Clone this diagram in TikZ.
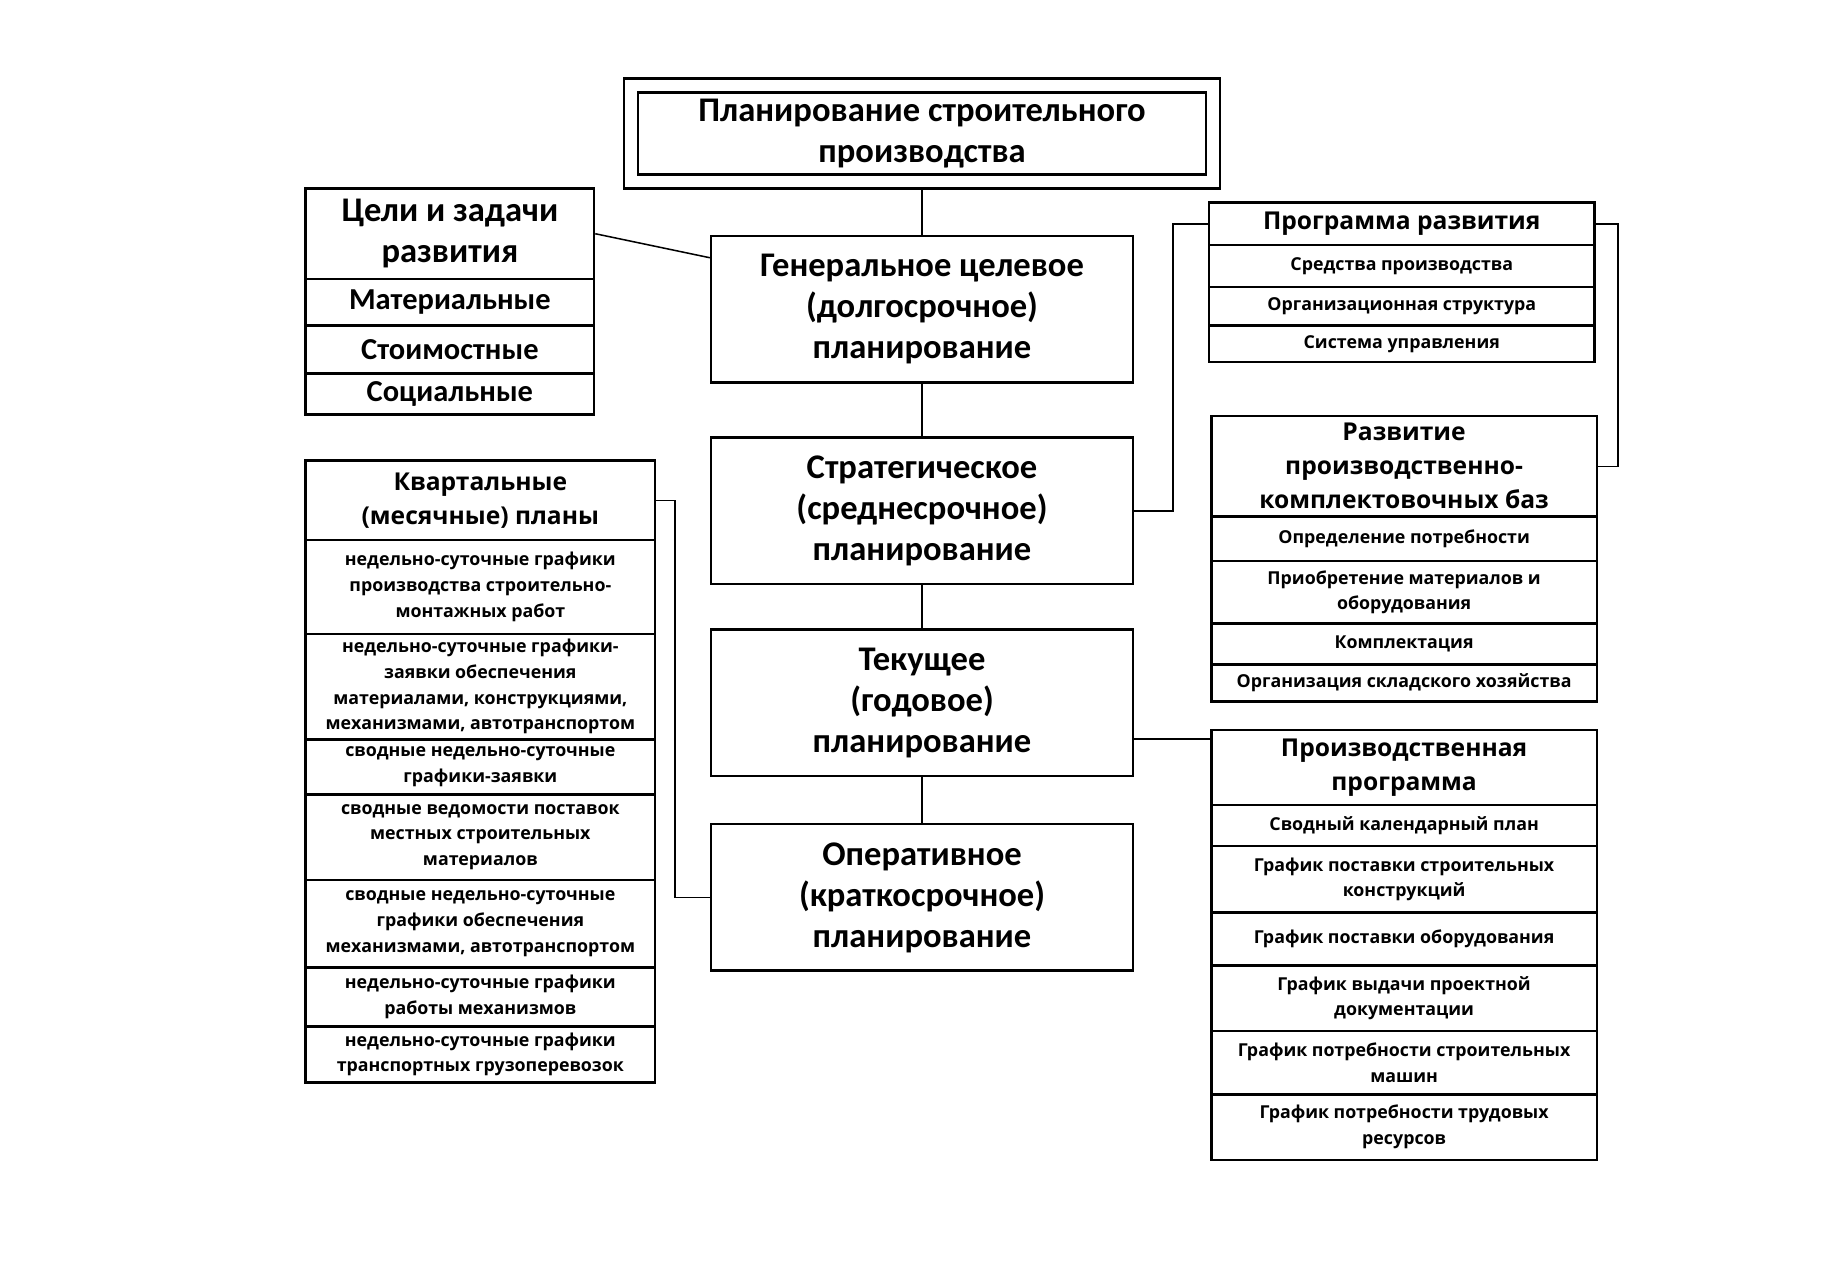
\documentclass[tikz,border=0pt]{standalone}
\usepackage{fontspec}
\setmainfont{Carlito}
\newfontfamily\opensans{Open Sans}

\begin{document}
\begin{tikzpicture}[x=1pt,y=-1pt,
 box/.style={draw,line width=2.2pt,align=center,inner sep=1pt,font=\bfseries\fontsize{29.5}{35}\selectfont},
 sub/.style={draw,line width=2.2pt,align=center,inner sep=1pt,font=\bfseries\fontsize{26}{30}\selectfont},
 hd/.style={draw,line width=2.2pt,align=center,inner sep=0pt,font=\opensans\bfseries\fontsize{21}{29}\selectfont},
 row/.style={draw,line width=2.2pt,align=center,inner sep=0pt,font=\opensans\bfseries\fontsize{15.2}{22}\selectfont},
 ln/.style={line width=1.3pt}]
\useasboundingbox (0,0) rectangle (1568,1087);
% central column
\node[box,minimum width=485,minimum height=70] (Plan) at (787,114) {Планирование строительного\\производства};
\node[draw,line width=2.2pt,minimum width=509,minimum height=94] (PlanOut) at (787,114) {};
\node[box,minimum width=360,minimum height=125] (Gen) at (787,264) {Генеральное целевое\\(долгосрочное)\\планирование};
\node[box,minimum width=360,minimum height=125] (Str) at (787,436) {Стратегическое\\(среднесрочное)\\планирование};
\node[box,minimum width=360,minimum height=125] (Cur) at (787,600) {Текущее\\(годовое)\\планирование};
\node[box,minimum width=360,minimum height=125] (Op) at (787,766) {Оперативное\\(краткосрочное)\\планирование};
% goals
\node[box,minimum width=246,minimum height=77] (Cel) at (384,199.5) {Цели и задачи\\развития};
\foreach \n/\yc/\h/\txt in {1/258/40/Материальные,2/298.5/41/Стоимостные,3/336.5/35/Социальные}
 \node[sub,minimum width=246,minimum height=\h] (Cel-\n) at (384,\yc) {\txt};
% development programme
\node[hd,minimum width=329,minimum height=36] (Prog) at (1196.5,191) {Программа развития};
\foreach \n/\yc/\h/\txt in {1/227/36/Средства производства,2/261.5/33/Организационная структура,3/293.5/31/Система управления}
 \node[row,minimum width=329,minimum height=\h] (Prog-\n) at (1196.5,\yc) {\txt};
\node[hd,minimum width=329,minimum height=86] (Baz) at (1198.5,398) {Развитие\\производственно-\\комплектовочных баз};
\foreach \n/\yc/\h/\txt in {1/460/38/Определение потребности,2/505.5/53/{Приобретение материалов и\\оборудования},3/549.5/35/Комплектация,4/583/32/Организация складского хозяйства}
 \node[row,minimum width=329,minimum height=\h] (Baz-\n) at (1198.5,\yc) {\txt};
% production programme
\node[hd,minimum width=329,minimum height=64] (Pp) at (1198.5,655) {Производственная\\программа};
\foreach \n/\yc/\h/\txt in {1/704.5/35/Сводный календарный план,2/750.5/57/{График поставки строительных\\конструкций},3/801.5/45/График поставки оборудования,4/852/56/{График выдачи проектной\\документации},5/907/54/{График потребности строительных\\машин},6/962/56/{График потребности трудовых\\ресурсов}}
 \node[row,minimum width=329,minimum height=\h] (Pp-\n) at (1198.5,\yc) {\txt};
% quarterly plans
\node[hd,minimum width=298,minimum height=68] (Kv) at (410,427) {Квартальные\\(месячные) планы};
\foreach \n/\yc/\h/\txt in {1/501/80/{недельно-суточные графики\\производства строительно-\\монтажных работ},2/586/90/{недельно-суточные графики-\\заявки обеспечения\\материалами, конструкциями,\\механизмами, автотранспортом},3/654.5/47/{сводные недельно-суточные\\графики-заявки},4/714.5/73/{сводные ведомости поставок\\местных строительных\\материалов},5/788.5/75/{сводные недельно-суточные\\графики обеспечения\\механизмами, автотранспортом},6/851/50/{недельно-суточные графики\\работы механизмов},7/900/48/{недельно-суточные графики\\транспортных грузоперевозок}}
 \node[row,minimum width=298,minimum height=\h] (Kv-\n) at (410,\yc) {\txt};
% connectors
\draw[ln] (PlanOut) -- (Gen);
\draw[ln] (Gen) -- (Str);
\draw[ln] (Str) -- (Cur);
\draw[ln] (Cur) -- (Op);
\draw[ln] (Cel.east) -- ([yshift=44pt]Gen.west);
\draw[ln] (Str.east) -- ++(33,0) |- (Prog.west);
\draw[ln] (Prog.east) -- ++(19,0) |- (Baz.east);
\coordinate (PpIn) at ([yshift=-9pt]Pp.north west);
\draw[ln] (Cur.east |- PpIn) -- (PpIn);
\draw[ln] (Kv.east) -- ++(16,0) |- (Op.west);
\end{tikzpicture}
\end{document}
